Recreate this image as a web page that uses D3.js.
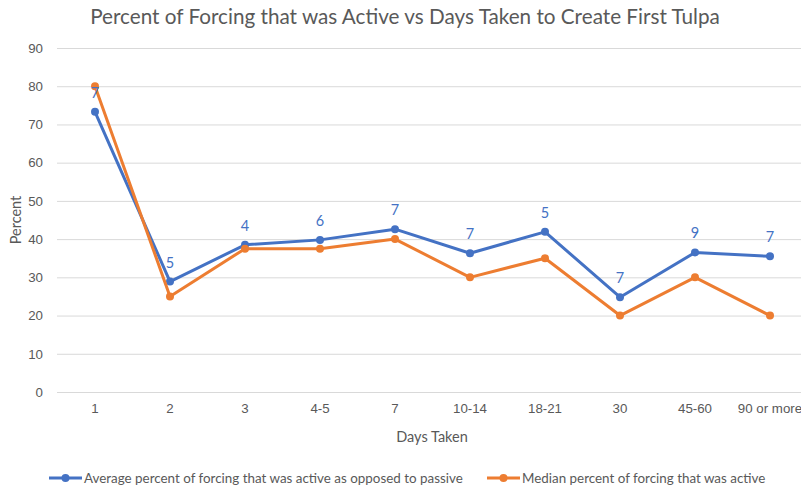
<!DOCTYPE html>
<html>
<head>
<meta charset="utf-8">
<script src="https://cdn.jsdelivr.net/npm/d3@7"></script>
<style>
  body { margin: 0; background: #fff; }
  svg { display: block; font-family: Lato, "Open Sans", sans-serif; }
</style>
</head>
<body>
<div id="chart"></div>
<script>
var categories = ["1", "2", "3", "4-5", "7", "10-14", "18-21", "30", "45-60", "90 or more"];
var averageActive = [73.3, 28.9, 38.5, 39.8, 42.6, 36.3, 41.9, 24.8, 36.5, 35.5];
var medianActive = [80, 25, 37.5, 37.5, 40, 30, 35, 20, 30, 20];
var responseCounts = [7, 5, 4, 6, 7, 7, 5, 7, 9, 7];
var yTicks = [0, 10, 20, 30, 40, 50, 60, 70, 80, 90];
var seriesNames = ["Average percent of forcing that was active as opposed to passive",
                   "Median percent of forcing that was active"];

var width = 801, height = 486;
var blue = "#4472C4", orange = "#ED7D31", textGrey = "#595959";

var svg = d3.select("#chart").append("svg")
    .attr("width", width)
    .attr("height", height);

var x = d3.scaleBand().domain(categories).range([57.5, 807.5]);
var y = d3.scaleLinear().domain([0, 90]).range([392, 48]);
function cx(d, i) { return x(categories[i]) + x.bandwidth() / 2; }

// title
svg.append("text")
    .attr("x", 405).attr("y", 24)
    .attr("text-anchor", "middle")
    .attr("fill", textGrey)
    .style("font-size", "20.7px")
    .text("Percent of Forcing that was Active vs Days Taken to Create First Tulpa");

// gridlines + y labels
var yAxis = d3.axisLeft(y).tickValues(yTicks).tickSize(-(width - 57)).tickPadding(14);
var gy = svg.append("g").attr("transform", "translate(57,0)").call(yAxis);
gy.select(".domain").remove();
gy.selectAll("line").attr("stroke", "#d9d9d9").attr("stroke-width", 1);
gy.selectAll("text").attr("fill", textGrey).style("font-size", "13.3px")
    .style("font-family", "inherit");

// x labels
var xAxis = d3.axisBottom(x).tickSize(0).tickPadding(12);
var gx = svg.append("g").attr("transform", "translate(0,392)").call(xAxis);
gx.select(".domain").remove();
gx.selectAll("text").attr("fill", textGrey).style("font-size", "13.3px")
    .style("font-family", "inherit");

// axis titles
svg.append("text")
    .attr("transform", "translate(21,220) rotate(-90)")
    .attr("text-anchor", "middle")
    .attr("fill", textGrey)
    .style("font-size", "14.5px")
    .text("Percent");
svg.append("text")
    .attr("x", 432).attr("y", 442)
    .attr("text-anchor", "middle")
    .attr("fill", textGrey)
    .style("font-size", "14.5px")
    .text("Days Taken");

var line = d3.line()
    .x(function (d, i) { return cx(d, i); })
    .y(function (d) { return y(d); });

function drawSeries(values, color) {
    var g = svg.append("g");
    g.append("path")
        .datum(values)
        .attr("d", line)
        .attr("fill", "none")
        .attr("stroke", color)
        .attr("stroke-width", 3)
        .attr("stroke-linejoin", "round");
    g.selectAll("circle")
        .data(values)
        .enter()
        .append("circle")
        .attr("cx", cx)
        .attr("cy", function (d) { return y(d); })
        .attr("r", 4)
        .attr("fill", color);
}

drawSeries(averageActive, blue);
drawSeries(medianActive, orange);

// data labels (count of responses) above the average line
svg.append("g").selectAll("text")
    .data(responseCounts)
    .enter()
    .append("text")
    .attr("x", cx)
    .attr("y", function (d, i) { return y(averageActive[i]) - 14; })
    .attr("text-anchor", "middle")
    .attr("fill", blue)
    .style("font-size", "14.5px")
    .text(function (d) { return d; });

// legend
var legend = svg.append("g").attr("transform", "translate(0,478)");
var legendX = [49, 487];
seriesNames.forEach(function (name, i) {
    var color = i === 0 ? blue : orange;
    var g = legend.append("g").attr("transform", "translate(" + legendX[i] + ",0)");
    g.append("line").attr("x1", 0).attr("x2", 33).attr("y1", 0).attr("y2", 0)
        .attr("stroke", color).attr("stroke-width", 3);
    g.append("circle").attr("cx", 16.5).attr("cy", 0).attr("r", 4).attr("fill", color);
    g.append("text").attr("x", 35).attr("y", 4.5)
        .attr("fill", textGrey)
        .style("font-size", "13.4px")
        .text(name);
});
</script>
</body>
</html>
